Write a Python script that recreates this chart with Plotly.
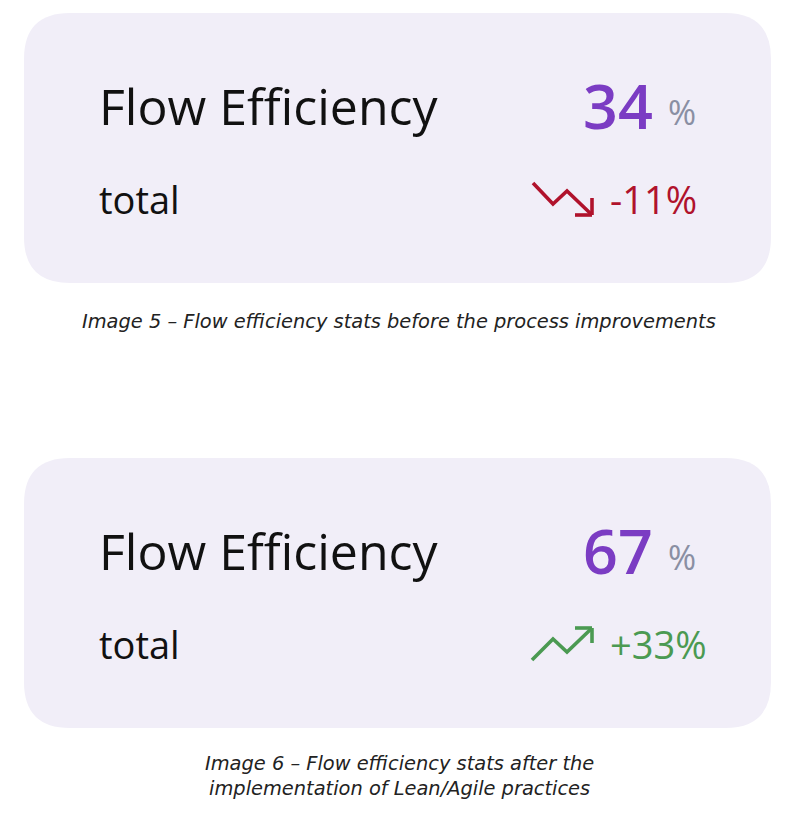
import plotly.graph_objects as go

# ---- data ----
card_titles = ["Flow Efficiency", "Flow Efficiency"]
card_subtitles = ["total", "total"]
values = [34, 67]
value_units = ["%", "%"]
changes = [-11, 33]
captions = [
    "Image 5 – Flow efficiency stats before the process improvements",
    "Image 6 – Flow efficiency stats after the<br>implementation of Lean/Agile practices",
]

# ---- styling / layout ----
W, H = 793, 833
OFF = 8  # page body margin
CARD_BG = "#f1eef8"
PURPLE = "#7b3cc3"
GREY = "#8a8fa3"
RED = "#b0122c"
GREEN = "#4b9a52"
FONT = "Open Sans"

card_tops = [13, 458]
card_left, card_right, card_h, rad = 24, 771, 270, 46

fig = go.Figure()
shapes, annotations = [], []


def rounded_rect(x0, y0, x1, y1, r):
    return (f"M {x0+r},{y0} L {x1-r},{y0} Q {x1},{y0} {x1},{y0+r} "
            f"L {x1},{y1-r} Q {x1},{y1} {x1-r},{y1} L {x0+r},{y1} "
            f"Q {x0},{y1} {x0},{y1-r} L {x0},{y0+r} Q {x0},{y0} {x0+r},{y0} Z")


# arrow icon shapes relative to card top (icon geometry, not data)
down_icon = [([533, 553, 567, 591], [170, 191, 178, 201]),
             ([575, 592], [202, 202]), ([592, 592], [185, 202])]
up_icon = [([532, 553, 567, 591], [202, 181, 194, 171]),
           ([575, 592], [170, 170]), ([592, 592], [170, 185])]

for i, top in enumerate(card_tops):
    shapes.append(dict(type="path", xref="x", yref="y",
                       path=rounded_rect(card_left, top, card_right, top + card_h, rad),
                       fillcolor=CARD_BG, line=dict(width=0), layer="below"))
    annotations.append(dict(x=97, y=top + 93, text=card_titles[i], xanchor="left",
                            yanchor="middle", showarrow=False,
                            font=dict(family=FONT, size=50, color="#111111")))
    annotations.append(dict(x=97, y=top + 186, text=card_subtitles[i], xanchor="left",
                            yanchor="middle", showarrow=False,
                            font=dict(family=FONT, size=38, color="#111111")))
    annotations.append(dict(x=655, y=top + 92, text=str(values[i]), xanchor="right",
                            yanchor="middle", showarrow=False,
                            font=dict(family=FONT, size=61, color=PURPLE, weight=600)))
    annotations.append(dict(x=666, y=top + 99, text=value_units[i], xanchor="left",
                            yanchor="middle", showarrow=False,
                            font=dict(family=FONT, size=34, color=GREY)))
    ch = changes[i]
    col = RED if ch < 0 else GREEN
    annotations.append(dict(x=608, y=top + 186, text=f"{ch:+d}%", xanchor="left",
                            yanchor="middle", showarrow=False,
                            font=dict(family=FONT, size=38, color=col)))
    icon = down_icon if ch < 0 else up_icon
    for xs, ys in icon:
        fig.add_trace(go.Scatter(x=xs, y=[y + top for y in ys], mode="lines",
                                 line=dict(color=col, width=3.6),
                                 hoverinfo="skip", showlegend=False))

caption_y = [321, 776]
for i, cy in enumerate(caption_y):
    annotations.append(dict(x=399, y=cy, text=captions[i], xanchor="center",
                            yanchor="middle", showarrow=False,
                            font=dict(family="DejaVu Sans", size=19.4, color="#222222",
                                      style="italic")))

fig.update_layout(
    width=W - OFF, height=H - OFF, margin=dict(l=0, r=0, t=0, b=0),
    paper_bgcolor="white", plot_bgcolor="white",
    xaxis=dict(range=[OFF, W], visible=False, fixedrange=True),
    yaxis=dict(range=[H, OFF], visible=False, fixedrange=True),
    shapes=shapes, annotations=annotations, showlegend=False,
)
fig.write_html("out.html")
